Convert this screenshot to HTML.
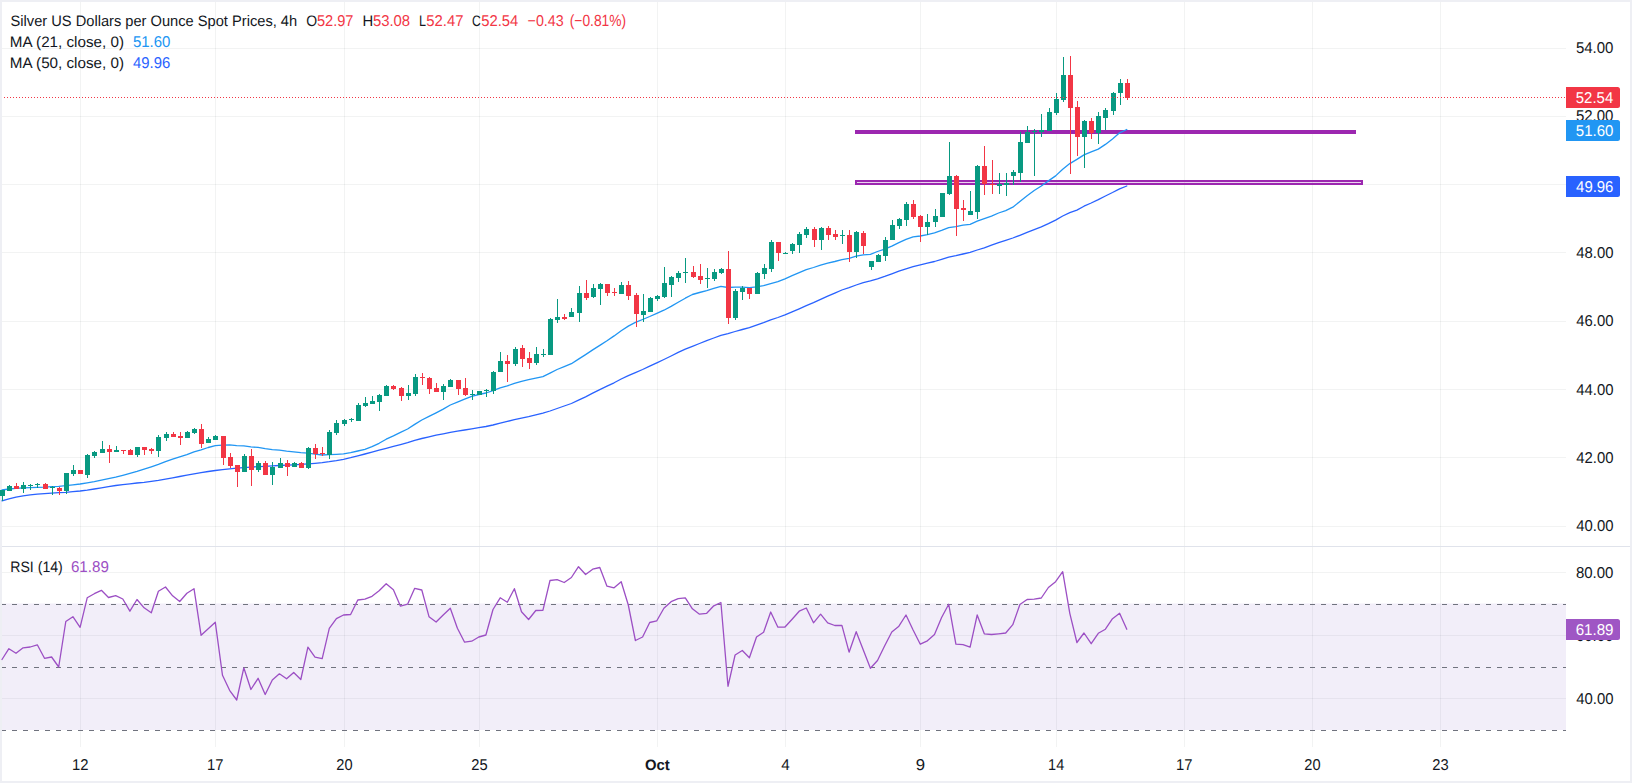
<!DOCTYPE html>
<html lang="en"><head><meta charset="utf-8"><title>Silver US Dollars per Ounce Spot Prices, 4h</title>
<style>html,body{margin:0;padding:0;background:#fff;overflow:hidden}svg{display:block}text{font-family:"Liberation Sans", sans-serif;font-size:15.1px;text-rendering:geometricPrecision}</style></head><body>
<svg width="1632" height="783" viewBox="0 0 1632 783">
<rect x="0" y="0" width="1632" height="783" fill="#eeeff4"/>
<rect x="2" y="2" width="1628" height="779" fill="#ffffff"/>
<g shape-rendering="crispEdges" stroke="#2a2e39" stroke-opacity="0.06" stroke-width="1">
<line x1="80.5" y1="2" x2="80.5" y2="546"/>
<line x1="80.5" y1="547" x2="80.5" y2="747"/>
<line x1="215.5" y1="2" x2="215.5" y2="546"/>
<line x1="215.5" y1="547" x2="215.5" y2="747"/>
<line x1="344.5" y1="2" x2="344.5" y2="546"/>
<line x1="344.5" y1="547" x2="344.5" y2="747"/>
<line x1="479.5" y1="2" x2="479.5" y2="546"/>
<line x1="479.5" y1="547" x2="479.5" y2="747"/>
<line x1="657.5" y1="2" x2="657.5" y2="546"/>
<line x1="657.5" y1="547" x2="657.5" y2="747"/>
<line x1="785.5" y1="2" x2="785.5" y2="546"/>
<line x1="785.5" y1="547" x2="785.5" y2="747"/>
<line x1="920.5" y1="2" x2="920.5" y2="546"/>
<line x1="920.5" y1="547" x2="920.5" y2="747"/>
<line x1="1056.5" y1="2" x2="1056.5" y2="546"/>
<line x1="1056.5" y1="547" x2="1056.5" y2="747"/>
<line x1="1184.5" y1="2" x2="1184.5" y2="546"/>
<line x1="1184.5" y1="547" x2="1184.5" y2="747"/>
<line x1="1312.5" y1="2" x2="1312.5" y2="546"/>
<line x1="1312.5" y1="547" x2="1312.5" y2="747"/>
<line x1="1440.5" y1="2" x2="1440.5" y2="546"/>
<line x1="1440.5" y1="547" x2="1440.5" y2="747"/>
<line x1="2" y1="526.5" x2="1566" y2="526.5"/>
<line x1="2" y1="457.5" x2="1566" y2="457.5"/>
<line x1="2" y1="389.5" x2="1566" y2="389.5"/>
<line x1="2" y1="321.5" x2="1566" y2="321.5"/>
<line x1="2" y1="252.5" x2="1566" y2="252.5"/>
<line x1="2" y1="184.5" x2="1566" y2="184.5"/>
<line x1="2" y1="116.5" x2="1566" y2="116.5"/>
<line x1="2" y1="48.5" x2="1566" y2="48.5"/>
<line x1="2" y1="572.5" x2="1566" y2="572.5"/>
<line x1="2" y1="635.5" x2="1566" y2="635.5"/>
<line x1="2" y1="698.5" x2="1566" y2="698.5"/>
</g>
<rect x="2" y="603.5" width="1564" height="126.5" fill="#7e57c2" fill-opacity="0.1"/>
<g shape-rendering="crispEdges" stroke="#70737e" stroke-width="1" stroke-dasharray="5 6" stroke-dashoffset="1">
<line x1="2" y1="604.5" x2="1566" y2="604.5"/>
<line x1="2" y1="667.5" x2="1566" y2="667.5"/>
<line x1="2" y1="730.5" x2="1566" y2="730.5"/>
</g>
<rect x="2" y="546" width="1628" height="1" fill="#e0e3eb"/>
<rect x="855" y="130" width="501" height="4" fill="#9c27b0"/>
<rect x="856" y="181" width="506" height="3" fill="#9c27b0" fill-opacity="0.2" stroke="#9c27b0" stroke-width="2"/>
<path d="M2.0 490.0 L8.9 489.0 L16.0 488.4 L23.1 487.9 L30.2 487.6 L37.3 487.3 L44.5 487.1 L51.6 486.7 L58.7 486.3 L65.8 485.7 L72.9 484.9 L80.1 484.0 L87.2 482.8 L94.3 481.6 L101.4 480.2 L108.5 478.7 L115.7 477.1 L122.8 475.3 L129.9 473.4 L137.0 471.4 L144.1 469.2 L151.3 466.8 L158.4 464.3 L165.5 461.6 L172.6 459.2 L179.7 456.9 L186.9 454.6 L194.0 451.9 L201.1 449.8 L208.2 447.5 L215.3 445.7 L222.5 445.1 L229.6 444.8 L236.7 445.6 L243.8 445.8 L250.9 446.8 L258.1 447.4 L265.2 448.7 L272.3 449.6 L279.4 450.1 L286.6 451.1 L293.7 451.8 L300.8 452.6 L307.9 453.1 L315.0 454.1 L322.2 455.0 L329.3 454.7 L336.4 454.3 L343.5 453.8 L350.6 452.6 L357.8 451.0 L364.9 449.4 L372.0 446.7 L379.1 443.3 L386.2 439.2 L393.4 435.9 L400.5 432.4 L407.6 429.0 L414.7 424.4 L421.8 420.0 L429.0 416.4 L436.1 412.8 L443.2 409.1 L450.3 405.0 L457.4 402.1 L464.6 399.2 L471.7 396.4 L478.8 394.5 L485.9 393.0 L493.0 390.7 L500.2 387.9 L507.3 385.9 L514.4 383.4 L521.5 381.3 L528.6 379.7 L535.8 378.2 L542.9 376.6 L550.0 373.1 L557.1 369.5 L564.2 366.7 L571.4 363.7 L578.5 359.1 L585.6 354.6 L592.7 349.9 L599.8 345.4 L607.0 340.8 L614.1 335.9 L621.2 330.7 L628.3 326.1 L635.4 322.4 L642.6 319.5 L649.7 316.5 L656.8 313.3 L663.9 310.2 L671.1 306.4 L678.2 302.2 L685.3 298.2 L692.4 294.5 L699.5 292.5 L706.7 290.6 L713.8 288.4 L720.9 286.3 L728.0 287.5 L735.1 287.2 L742.3 287.2 L749.4 287.6 L756.5 286.8 L763.6 285.7 L770.7 283.7 L777.9 281.7 L785.0 278.9 L792.1 275.7 L799.2 272.7 L806.3 269.6 L813.5 267.5 L820.6 265.1 L827.7 263.2 L834.8 261.5 L841.9 259.6 L849.1 258.3 L856.2 256.1 L863.3 254.8 L870.4 254.4 L877.5 251.5 L884.7 249.1 L891.8 246.2 L898.9 242.6 L906.0 239.3 L913.1 236.8 L920.3 236.0 L927.4 234.6 L934.5 232.8 L941.6 230.4 L948.7 227.6 L955.9 226.6 L963.0 225.1 L970.1 224.3 L977.2 221.2 L984.3 218.7 L991.5 216.2 L998.6 213.0 L1005.7 210.6 L1012.8 207.2 L1019.9 201.5 L1027.1 195.7 L1034.2 190.5 L1041.3 186.0 L1048.4 180.9 L1055.6 175.9 L1062.7 169.2 L1069.8 163.6 L1076.9 159.4 L1084.0 154.9 L1091.2 151.9 L1098.3 149.1 L1105.4 144.4 L1112.5 138.9 L1119.6 132.8 L1126.8 129.5" fill="none" stroke="#2196f3" stroke-width="1.3" stroke-linejoin="round" stroke-linecap="round"/>
<path d="M2.0 500.9 L8.9 498.8 L16.0 497.1 L23.1 495.8 L30.2 494.9 L37.3 494.1 L44.5 493.6 L51.6 493.1 L58.7 492.7 L65.8 492.3 L72.9 491.7 L80.1 491.0 L87.2 490.1 L94.3 489.0 L101.4 487.8 L108.5 486.6 L115.7 485.5 L122.8 484.6 L129.9 483.8 L137.0 483.0 L144.1 482.3 L151.3 481.3 L158.4 480.3 L165.5 479.1 L172.6 477.8 L179.7 476.5 L186.9 475.1 L194.0 473.8 L201.1 472.6 L208.2 471.5 L215.3 470.5 L222.5 469.6 L229.6 468.8 L236.7 468.2 L243.8 467.6 L250.9 467.1 L258.1 466.6 L265.2 466.3 L272.3 465.9 L279.4 465.5 L286.6 465.2 L293.7 464.8 L300.8 464.4 L307.9 463.9 L315.0 463.3 L322.2 462.6 L329.3 461.7 L336.4 460.6 L343.5 459.3 L350.6 457.7 L357.8 455.9 L364.9 454.0 L372.0 452.1 L379.1 450.2 L386.2 448.3 L393.4 446.4 L400.5 444.6 L407.6 442.7 L414.7 440.4 L421.8 438.5 L429.0 436.8 L436.1 435.2 L443.2 433.8 L450.3 432.3 L457.4 431.1 L464.6 430.0 L471.7 428.9 L478.8 427.7 L485.9 426.5 L493.0 425.0 L500.2 423.2 L507.3 421.4 L514.4 419.6 L521.5 418.1 L528.6 416.6 L535.8 414.9 L542.9 413.2 L550.0 411.0 L557.1 408.5 L564.2 406.0 L571.4 403.5 L578.5 400.2 L585.6 396.8 L592.7 393.2 L599.8 389.7 L607.0 386.2 L614.1 382.8 L621.2 379.0 L628.3 375.6 L635.4 372.6 L642.6 369.5 L649.7 366.2 L656.8 362.8 L663.9 359.5 L671.1 356.0 L678.2 352.4 L685.3 349.2 L692.4 346.3 L699.5 343.5 L706.7 340.6 L713.8 338.0 L720.9 335.3 L728.0 333.6 L735.1 331.5 L742.3 329.5 L749.4 327.6 L756.5 325.1 L763.6 322.6 L770.7 319.9 L777.9 317.5 L785.0 314.8 L792.1 311.8 L799.2 308.8 L806.3 305.7 L813.5 302.7 L820.6 299.4 L827.7 296.2 L834.8 293.1 L841.9 290.0 L849.1 287.6 L856.2 285.0 L863.3 282.6 L870.4 280.9 L877.5 278.8 L884.7 276.4 L891.8 273.8 L898.9 271.1 L906.0 268.8 L913.1 266.7 L920.3 264.9 L927.4 263.1 L934.5 261.5 L941.6 259.4 L948.7 257.2 L955.9 255.7 L963.0 254.0 L970.1 252.4 L977.2 250.0 L984.3 247.8 L991.5 245.2 L998.6 242.7 L1005.7 240.4 L1012.8 238.0 L1019.9 235.3 L1027.1 232.4 L1034.2 229.6 L1041.3 226.9 L1048.4 223.7 L1055.6 220.1 L1062.7 216.0 L1069.8 212.7 L1076.9 210.1 L1084.0 206.2 L1091.2 203.0 L1098.3 199.6 L1105.4 196.0 L1112.5 192.5 L1119.6 188.8 L1126.8 186.0" fill="none" stroke="#2962ff" stroke-width="1.3" stroke-linejoin="round" stroke-linecap="round"/>
<g shape-rendering="crispEdges">
<rect x="2" y="490" width="1" height="11" fill="#089981"/>
<rect x="0" y="490" width="5" height="6" fill="#089981"/>
<rect x="9" y="485" width="1" height="6" fill="#089981"/>
<rect x="7" y="486" width="5" height="5" fill="#089981"/>
<rect x="16" y="483" width="1" height="6" fill="#f23645"/>
<rect x="14" y="486" width="5" height="3" fill="#f23645"/>
<rect x="23" y="482" width="1" height="11" fill="#089981"/>
<rect x="21" y="485" width="5" height="4" fill="#089981"/>
<rect x="30" y="484" width="1" height="6" fill="#089981"/>
<rect x="28" y="485" width="5" height="1" fill="#089981"/>
<rect x="37" y="483" width="1" height="5" fill="#089981"/>
<rect x="35" y="484" width="5" height="1" fill="#089981"/>
<rect x="45" y="483" width="1" height="6" fill="#f23645"/>
<rect x="43" y="484" width="5" height="5" fill="#f23645"/>
<rect x="52" y="486" width="1" height="9" fill="#089981"/>
<rect x="50" y="487" width="5" height="1" fill="#089981"/>
<rect x="59" y="487" width="1" height="8" fill="#f23645"/>
<rect x="57" y="488" width="5" height="3" fill="#f23645"/>
<rect x="66" y="473" width="1" height="21" fill="#089981"/>
<rect x="64" y="473" width="5" height="18" fill="#089981"/>
<rect x="73" y="465" width="1" height="11" fill="#089981"/>
<rect x="71" y="470" width="5" height="4" fill="#089981"/>
<rect x="80" y="470" width="1" height="4" fill="#f23645"/>
<rect x="78" y="470" width="5" height="4" fill="#f23645"/>
<rect x="87" y="454" width="1" height="24" fill="#089981"/>
<rect x="85" y="455" width="5" height="20" fill="#089981"/>
<rect x="94" y="451" width="1" height="7" fill="#089981"/>
<rect x="92" y="452" width="5" height="4" fill="#089981"/>
<rect x="102" y="441" width="1" height="12" fill="#089981"/>
<rect x="100" y="449" width="5" height="4" fill="#089981"/>
<rect x="109" y="445" width="1" height="18" fill="#f23645"/>
<rect x="107" y="449" width="5" height="3" fill="#f23645"/>
<rect x="116" y="446" width="1" height="6" fill="#089981"/>
<rect x="114" y="450" width="5" height="2" fill="#089981"/>
<rect x="123" y="450" width="1" height="4" fill="#f23645"/>
<rect x="121" y="450" width="5" height="1" fill="#f23645"/>
<rect x="130" y="449" width="1" height="6" fill="#f23645"/>
<rect x="128" y="450" width="5" height="5" fill="#f23645"/>
<rect x="137" y="447" width="1" height="10" fill="#089981"/>
<rect x="135" y="447" width="5" height="8" fill="#089981"/>
<rect x="144" y="447" width="1" height="8" fill="#f23645"/>
<rect x="142" y="447" width="5" height="3" fill="#f23645"/>
<rect x="151" y="448" width="1" height="6" fill="#f23645"/>
<rect x="149" y="449" width="5" height="2" fill="#f23645"/>
<rect x="158" y="435" width="1" height="22" fill="#089981"/>
<rect x="156" y="437" width="5" height="14" fill="#089981"/>
<rect x="166" y="432" width="1" height="9" fill="#089981"/>
<rect x="164" y="434" width="5" height="4" fill="#089981"/>
<rect x="173" y="432" width="1" height="5" fill="#f23645"/>
<rect x="171" y="434" width="5" height="3" fill="#f23645"/>
<rect x="180" y="432" width="1" height="13" fill="#f23645"/>
<rect x="178" y="436" width="5" height="2" fill="#f23645"/>
<rect x="187" y="431" width="1" height="7" fill="#089981"/>
<rect x="185" y="432" width="5" height="6" fill="#089981"/>
<rect x="194" y="428" width="1" height="6" fill="#089981"/>
<rect x="192" y="429" width="5" height="4" fill="#089981"/>
<rect x="201" y="424" width="1" height="24" fill="#f23645"/>
<rect x="199" y="429" width="5" height="15" fill="#f23645"/>
<rect x="208" y="437" width="1" height="6" fill="#089981"/>
<rect x="206" y="439" width="5" height="4" fill="#089981"/>
<rect x="215" y="435" width="1" height="5" fill="#089981"/>
<rect x="213" y="436" width="5" height="4" fill="#089981"/>
<rect x="223" y="436" width="1" height="29" fill="#f23645"/>
<rect x="221" y="436" width="5" height="22" fill="#f23645"/>
<rect x="230" y="453" width="1" height="15" fill="#f23645"/>
<rect x="228" y="457" width="5" height="9" fill="#f23645"/>
<rect x="237" y="465" width="1" height="22" fill="#f23645"/>
<rect x="235" y="465" width="5" height="7" fill="#f23645"/>
<rect x="244" y="454" width="1" height="18" fill="#089981"/>
<rect x="242" y="456" width="5" height="16" fill="#089981"/>
<rect x="251" y="449" width="1" height="37" fill="#f23645"/>
<rect x="249" y="456" width="5" height="14" fill="#f23645"/>
<rect x="258" y="461" width="1" height="11" fill="#089981"/>
<rect x="256" y="463" width="5" height="7" fill="#089981"/>
<rect x="265" y="461" width="1" height="14" fill="#f23645"/>
<rect x="263" y="463" width="5" height="12" fill="#f23645"/>
<rect x="272" y="462" width="1" height="23" fill="#089981"/>
<rect x="270" y="467" width="5" height="8" fill="#089981"/>
<rect x="280" y="458" width="1" height="10" fill="#089981"/>
<rect x="278" y="463" width="5" height="5" fill="#089981"/>
<rect x="287" y="460" width="1" height="16" fill="#f23645"/>
<rect x="285" y="463" width="5" height="4" fill="#f23645"/>
<rect x="294" y="462" width="1" height="5" fill="#089981"/>
<rect x="292" y="463" width="5" height="4" fill="#089981"/>
<rect x="301" y="462" width="1" height="6" fill="#f23645"/>
<rect x="299" y="463" width="5" height="5" fill="#f23645"/>
<rect x="308" y="447" width="1" height="22" fill="#089981"/>
<rect x="306" y="448" width="5" height="20" fill="#089981"/>
<rect x="315" y="444" width="1" height="15" fill="#f23645"/>
<rect x="313" y="448" width="5" height="6" fill="#f23645"/>
<rect x="322" y="447" width="1" height="9" fill="#f23645"/>
<rect x="320" y="453" width="5" height="1" fill="#f23645"/>
<rect x="329" y="430" width="1" height="29" fill="#089981"/>
<rect x="327" y="432" width="5" height="23" fill="#089981"/>
<rect x="336" y="420" width="1" height="15" fill="#089981"/>
<rect x="334" y="423" width="5" height="10" fill="#089981"/>
<rect x="344" y="419" width="1" height="7" fill="#089981"/>
<rect x="342" y="420" width="5" height="4" fill="#089981"/>
<rect x="351" y="418" width="1" height="4" fill="#089981"/>
<rect x="349" y="419" width="5" height="1" fill="#089981"/>
<rect x="358" y="403" width="1" height="18" fill="#089981"/>
<rect x="356" y="405" width="5" height="16" fill="#089981"/>
<rect x="365" y="397" width="1" height="10" fill="#089981"/>
<rect x="363" y="403" width="5" height="3" fill="#089981"/>
<rect x="372" y="396" width="1" height="8" fill="#089981"/>
<rect x="370" y="401" width="5" height="3" fill="#089981"/>
<rect x="379" y="394" width="1" height="17" fill="#089981"/>
<rect x="377" y="395" width="5" height="7" fill="#089981"/>
<rect x="386" y="385" width="1" height="11" fill="#089981"/>
<rect x="384" y="386" width="5" height="10" fill="#089981"/>
<rect x="393" y="385" width="1" height="5" fill="#f23645"/>
<rect x="391" y="386" width="5" height="3" fill="#f23645"/>
<rect x="401" y="387" width="1" height="14" fill="#f23645"/>
<rect x="399" y="388" width="5" height="8" fill="#f23645"/>
<rect x="408" y="385" width="1" height="15" fill="#089981"/>
<rect x="406" y="393" width="5" height="3" fill="#089981"/>
<rect x="415" y="374" width="1" height="22" fill="#089981"/>
<rect x="413" y="377" width="5" height="17" fill="#089981"/>
<rect x="422" y="373" width="1" height="12" fill="#f23645"/>
<rect x="420" y="377" width="5" height="1" fill="#f23645"/>
<rect x="429" y="377" width="1" height="17" fill="#f23645"/>
<rect x="427" y="378" width="5" height="11" fill="#f23645"/>
<rect x="436" y="383" width="1" height="9" fill="#f23645"/>
<rect x="434" y="388" width="5" height="4" fill="#f23645"/>
<rect x="443" y="384" width="1" height="16" fill="#089981"/>
<rect x="441" y="386" width="5" height="6" fill="#089981"/>
<rect x="450" y="379" width="1" height="8" fill="#089981"/>
<rect x="448" y="380" width="5" height="7" fill="#089981"/>
<rect x="458" y="380" width="1" height="15" fill="#f23645"/>
<rect x="456" y="380" width="5" height="9" fill="#f23645"/>
<rect x="465" y="378" width="1" height="18" fill="#f23645"/>
<rect x="463" y="388" width="5" height="7" fill="#f23645"/>
<rect x="472" y="390" width="1" height="10" fill="#089981"/>
<rect x="470" y="394" width="5" height="1" fill="#089981"/>
<rect x="479" y="391" width="1" height="4" fill="#089981"/>
<rect x="477" y="391" width="5" height="4" fill="#089981"/>
<rect x="486" y="389" width="1" height="8" fill="#089981"/>
<rect x="484" y="390" width="5" height="1" fill="#089981"/>
<rect x="493" y="371" width="1" height="23" fill="#089981"/>
<rect x="491" y="372" width="5" height="19" fill="#089981"/>
<rect x="500" y="352" width="1" height="20" fill="#089981"/>
<rect x="498" y="361" width="5" height="11" fill="#089981"/>
<rect x="507" y="355" width="1" height="27" fill="#f23645"/>
<rect x="505" y="361" width="5" height="3" fill="#f23645"/>
<rect x="515" y="347" width="1" height="19" fill="#089981"/>
<rect x="513" y="349" width="5" height="15" fill="#089981"/>
<rect x="522" y="345" width="1" height="22" fill="#f23645"/>
<rect x="520" y="348" width="5" height="11" fill="#f23645"/>
<rect x="529" y="352" width="1" height="17" fill="#f23645"/>
<rect x="527" y="358" width="5" height="5" fill="#f23645"/>
<rect x="536" y="347" width="1" height="18" fill="#089981"/>
<rect x="534" y="354" width="5" height="9" fill="#089981"/>
<rect x="543" y="349" width="1" height="8" fill="#089981"/>
<rect x="541" y="354" width="5" height="1" fill="#089981"/>
<rect x="550" y="318" width="1" height="37" fill="#089981"/>
<rect x="548" y="319" width="5" height="36" fill="#089981"/>
<rect x="557" y="299" width="1" height="24" fill="#089981"/>
<rect x="555" y="317" width="5" height="3" fill="#089981"/>
<rect x="564" y="314" width="1" height="6" fill="#f23645"/>
<rect x="562" y="317" width="5" height="2" fill="#f23645"/>
<rect x="571" y="308" width="1" height="9" fill="#089981"/>
<rect x="569" y="312" width="5" height="5" fill="#089981"/>
<rect x="579" y="286" width="1" height="36" fill="#089981"/>
<rect x="577" y="293" width="5" height="20" fill="#089981"/>
<rect x="586" y="280" width="1" height="20" fill="#f23645"/>
<rect x="584" y="293" width="5" height="5" fill="#f23645"/>
<rect x="593" y="284" width="1" height="14" fill="#089981"/>
<rect x="591" y="288" width="5" height="9" fill="#089981"/>
<rect x="600" y="283" width="1" height="22" fill="#089981"/>
<rect x="598" y="284" width="5" height="5" fill="#089981"/>
<rect x="607" y="284" width="1" height="12" fill="#f23645"/>
<rect x="605" y="284" width="5" height="9" fill="#f23645"/>
<rect x="614" y="288" width="1" height="8" fill="#f23645"/>
<rect x="612" y="292" width="5" height="1" fill="#f23645"/>
<rect x="621" y="282" width="1" height="12" fill="#089981"/>
<rect x="619" y="285" width="5" height="9" fill="#089981"/>
<rect x="628" y="281" width="1" height="19" fill="#f23645"/>
<rect x="626" y="285" width="5" height="11" fill="#f23645"/>
<rect x="636" y="293" width="1" height="34" fill="#f23645"/>
<rect x="634" y="295" width="5" height="19" fill="#f23645"/>
<rect x="643" y="294" width="1" height="28" fill="#089981"/>
<rect x="641" y="311" width="5" height="4" fill="#089981"/>
<rect x="650" y="297" width="1" height="15" fill="#089981"/>
<rect x="648" y="298" width="5" height="14" fill="#089981"/>
<rect x="657" y="295" width="1" height="6" fill="#089981"/>
<rect x="655" y="296" width="5" height="3" fill="#089981"/>
<rect x="664" y="267" width="1" height="31" fill="#089981"/>
<rect x="662" y="283" width="5" height="14" fill="#089981"/>
<rect x="671" y="276" width="1" height="21" fill="#089981"/>
<rect x="669" y="277" width="5" height="8" fill="#089981"/>
<rect x="678" y="271" width="1" height="11" fill="#089981"/>
<rect x="676" y="273" width="5" height="5" fill="#089981"/>
<rect x="685" y="258" width="1" height="25" fill="#089981"/>
<rect x="683" y="272" width="5" height="1" fill="#089981"/>
<rect x="693" y="266" width="1" height="12" fill="#f23645"/>
<rect x="691" y="272" width="5" height="5" fill="#f23645"/>
<rect x="700" y="264" width="1" height="20" fill="#f23645"/>
<rect x="698" y="276" width="5" height="4" fill="#f23645"/>
<rect x="707" y="268" width="1" height="20" fill="#089981"/>
<rect x="705" y="278" width="5" height="1" fill="#089981"/>
<rect x="714" y="269" width="1" height="12" fill="#089981"/>
<rect x="712" y="272" width="5" height="7" fill="#089981"/>
<rect x="721" y="268" width="1" height="6" fill="#089981"/>
<rect x="719" y="269" width="5" height="4" fill="#089981"/>
<rect x="728" y="251" width="1" height="73" fill="#f23645"/>
<rect x="726" y="269" width="5" height="49" fill="#f23645"/>
<rect x="735" y="289" width="1" height="31" fill="#089981"/>
<rect x="733" y="291" width="5" height="27" fill="#089981"/>
<rect x="742" y="286" width="1" height="14" fill="#089981"/>
<rect x="740" y="288" width="5" height="4" fill="#089981"/>
<rect x="749" y="288" width="1" height="11" fill="#f23645"/>
<rect x="747" y="288" width="5" height="6" fill="#f23645"/>
<rect x="757" y="272" width="1" height="22" fill="#089981"/>
<rect x="755" y="273" width="5" height="21" fill="#089981"/>
<rect x="764" y="264" width="1" height="15" fill="#089981"/>
<rect x="762" y="268" width="5" height="6" fill="#089981"/>
<rect x="771" y="240" width="1" height="32" fill="#089981"/>
<rect x="769" y="242" width="5" height="27" fill="#089981"/>
<rect x="778" y="242" width="1" height="19" fill="#f23645"/>
<rect x="776" y="242" width="5" height="11" fill="#f23645"/>
<rect x="785" y="252" width="1" height="2" fill="#089981"/>
<rect x="783" y="253" width="5" height="1" fill="#089981"/>
<rect x="792" y="243" width="1" height="11" fill="#089981"/>
<rect x="790" y="244" width="5" height="7" fill="#089981"/>
<rect x="799" y="232" width="1" height="21" fill="#089981"/>
<rect x="797" y="234" width="5" height="11" fill="#089981"/>
<rect x="806" y="227" width="1" height="11" fill="#089981"/>
<rect x="804" y="229" width="5" height="6" fill="#089981"/>
<rect x="814" y="227" width="1" height="20" fill="#f23645"/>
<rect x="812" y="229" width="5" height="11" fill="#f23645"/>
<rect x="821" y="227" width="1" height="23" fill="#089981"/>
<rect x="819" y="228" width="5" height="12" fill="#089981"/>
<rect x="828" y="226" width="1" height="14" fill="#f23645"/>
<rect x="826" y="228" width="5" height="7" fill="#f23645"/>
<rect x="835" y="230" width="1" height="10" fill="#f23645"/>
<rect x="833" y="234" width="5" height="3" fill="#f23645"/>
<rect x="842" y="230" width="1" height="14" fill="#089981"/>
<rect x="840" y="235" width="5" height="1" fill="#089981"/>
<rect x="849" y="230" width="1" height="32" fill="#f23645"/>
<rect x="847" y="235" width="5" height="17" fill="#f23645"/>
<rect x="856" y="231" width="1" height="27" fill="#089981"/>
<rect x="854" y="232" width="5" height="20" fill="#089981"/>
<rect x="863" y="231" width="1" height="23" fill="#f23645"/>
<rect x="861" y="233" width="5" height="13" fill="#f23645"/>
<rect x="871" y="261" width="1" height="9" fill="#089981"/>
<rect x="869" y="261" width="5" height="6" fill="#089981"/>
<rect x="878" y="254" width="1" height="8" fill="#089981"/>
<rect x="876" y="255" width="5" height="7" fill="#089981"/>
<rect x="885" y="237" width="1" height="24" fill="#089981"/>
<rect x="883" y="240" width="5" height="16" fill="#089981"/>
<rect x="892" y="220" width="1" height="20" fill="#089981"/>
<rect x="890" y="225" width="5" height="15" fill="#089981"/>
<rect x="899" y="218" width="1" height="11" fill="#089981"/>
<rect x="897" y="219" width="5" height="7" fill="#089981"/>
<rect x="906" y="202" width="1" height="24" fill="#089981"/>
<rect x="904" y="204" width="5" height="16" fill="#089981"/>
<rect x="913" y="200" width="1" height="19" fill="#f23645"/>
<rect x="911" y="204" width="5" height="13" fill="#f23645"/>
<rect x="920" y="215" width="1" height="27" fill="#f23645"/>
<rect x="918" y="216" width="5" height="11" fill="#f23645"/>
<rect x="927" y="214" width="1" height="21" fill="#089981"/>
<rect x="925" y="222" width="5" height="5" fill="#089981"/>
<rect x="935" y="209" width="1" height="18" fill="#089981"/>
<rect x="933" y="216" width="5" height="6" fill="#089981"/>
<rect x="942" y="193" width="1" height="24" fill="#089981"/>
<rect x="940" y="193" width="5" height="24" fill="#089981"/>
<rect x="949" y="142" width="1" height="53" fill="#089981"/>
<rect x="947" y="176" width="5" height="18" fill="#089981"/>
<rect x="956" y="175" width="1" height="61" fill="#f23645"/>
<rect x="954" y="176" width="5" height="33" fill="#f23645"/>
<rect x="963" y="200" width="1" height="21" fill="#f23645"/>
<rect x="961" y="208" width="5" height="2" fill="#f23645"/>
<rect x="970" y="191" width="1" height="24" fill="#089981"/>
<rect x="968" y="211" width="5" height="4" fill="#089981"/>
<rect x="977" y="165" width="1" height="54" fill="#089981"/>
<rect x="975" y="166" width="5" height="46" fill="#089981"/>
<rect x="984" y="146" width="1" height="49" fill="#f23645"/>
<rect x="982" y="166" width="5" height="18" fill="#f23645"/>
<rect x="992" y="160" width="1" height="34" fill="#f23645"/>
<rect x="990" y="184" width="5" height="1" fill="#f23645"/>
<rect x="999" y="173" width="1" height="21" fill="#089981"/>
<rect x="997" y="184" width="5" height="2" fill="#089981"/>
<rect x="1006" y="173" width="1" height="23" fill="#089981"/>
<rect x="1004" y="183" width="5" height="2" fill="#089981"/>
<rect x="1013" y="170" width="1" height="15" fill="#089981"/>
<rect x="1011" y="172" width="5" height="4" fill="#089981"/>
<rect x="1020" y="132" width="1" height="50" fill="#089981"/>
<rect x="1018" y="142" width="5" height="31" fill="#089981"/>
<rect x="1027" y="126" width="1" height="17" fill="#089981"/>
<rect x="1025" y="132" width="5" height="11" fill="#089981"/>
<rect x="1034" y="129" width="1" height="47" fill="#089981"/>
<rect x="1032" y="131" width="5" height="1" fill="#089981"/>
<rect x="1041" y="114" width="1" height="23" fill="#089981"/>
<rect x="1039" y="130" width="5" height="2" fill="#089981"/>
<rect x="1049" y="108" width="1" height="23" fill="#089981"/>
<rect x="1047" y="112" width="5" height="19" fill="#089981"/>
<rect x="1056" y="93" width="1" height="22" fill="#089981"/>
<rect x="1054" y="99" width="5" height="14" fill="#089981"/>
<rect x="1063" y="57" width="1" height="45" fill="#089981"/>
<rect x="1061" y="75" width="5" height="25" fill="#089981"/>
<rect x="1070" y="56" width="1" height="118" fill="#f23645"/>
<rect x="1068" y="75" width="5" height="33" fill="#f23645"/>
<rect x="1077" y="101" width="1" height="55" fill="#f23645"/>
<rect x="1075" y="107" width="5" height="30" fill="#f23645"/>
<rect x="1084" y="120" width="1" height="48" fill="#089981"/>
<rect x="1082" y="121" width="5" height="16" fill="#089981"/>
<rect x="1091" y="118" width="1" height="21" fill="#f23645"/>
<rect x="1089" y="121" width="5" height="12" fill="#f23645"/>
<rect x="1098" y="112" width="1" height="32" fill="#089981"/>
<rect x="1096" y="116" width="5" height="17" fill="#089981"/>
<rect x="1105" y="108" width="1" height="22" fill="#089981"/>
<rect x="1103" y="110" width="5" height="8" fill="#089981"/>
<rect x="1113" y="92" width="1" height="23" fill="#089981"/>
<rect x="1111" y="93" width="5" height="18" fill="#089981"/>
<rect x="1120" y="79" width="1" height="26" fill="#089981"/>
<rect x="1118" y="83" width="5" height="10" fill="#089981"/>
<rect x="1127" y="79" width="1" height="21" fill="#f23645"/>
<rect x="1125" y="83" width="5" height="15" fill="#f23645"/>
</g>
<line x1="2" y1="97.5" x2="1566" y2="97.5" stroke="#f23645" stroke-width="1" stroke-dasharray="1 2" stroke-dashoffset="1" shape-rendering="crispEdges"/>
<path d="M2.0 659.5 L8.9 648.7 L16.0 653.3 L23.1 647.8 L30.2 647.0 L37.3 644.8 L44.5 658.3 L51.6 657.0 L58.7 667.0 L65.8 621.5 L72.9 616.7 L80.1 627.3 L87.2 597.8 L94.3 593.7 L101.4 590.3 L108.5 597.5 L115.7 595.7 L122.8 599.0 L129.9 611.2 L137.0 599.5 L144.1 607.8 L151.3 612.8 L158.4 591.2 L165.5 587.0 L172.6 595.8 L179.7 601.5 L186.9 593.3 L194.0 588.7 L201.1 635.3 L208.2 628.7 L215.3 622.3 L222.5 675.3 L229.6 690.3 L236.7 700.0 L243.8 667.8 L250.9 689.5 L258.1 678.3 L265.2 694.5 L272.3 680.0 L279.4 673.8 L286.6 678.8 L293.7 672.5 L300.8 679.5 L307.9 647.2 L315.0 657.2 L322.2 658.7 L329.3 628.3 L336.4 618.7 L343.5 615.0 L350.6 614.5 L357.8 600.0 L364.9 599.2 L372.0 596.3 L379.1 590.8 L386.2 583.7 L393.4 589.7 L400.5 606.2 L407.6 604.2 L414.7 588.3 L421.8 590.0 L429.0 616.7 L436.1 622.0 L443.2 615.0 L450.3 608.3 L457.4 628.3 L464.6 642.2 L471.7 641.2 L478.8 637.0 L485.9 635.0 L493.0 609.5 L500.2 597.8 L507.3 602.2 L514.4 588.7 L521.5 611.7 L528.6 619.5 L535.8 610.5 L542.9 610.3 L550.0 580.5 L557.1 579.7 L564.2 582.5 L571.4 577.5 L578.5 566.7 L585.6 574.5 L592.7 569.2 L599.8 567.5 L607.0 586.2 L614.1 587.8 L621.2 581.7 L628.3 605.0 L635.4 640.5 L642.6 637.0 L649.7 622.5 L656.8 620.8 L663.9 608.3 L671.1 601.7 L678.2 598.7 L685.3 597.8 L692.4 608.8 L699.5 614.2 L706.7 613.3 L713.8 605.8 L720.9 602.5 L728.0 686.3 L735.1 655.0 L742.3 650.5 L749.4 657.8 L756.5 637.0 L763.6 632.2 L770.7 612.0 L777.9 627.2 L785.0 627.0 L792.1 619.2 L799.2 611.2 L806.3 608.0 L813.5 622.8 L820.6 614.2 L827.7 622.8 L834.8 625.5 L841.9 625.3 L849.1 652.2 L856.2 631.7 L863.3 650.0 L870.4 668.3 L877.5 660.5 L884.7 645.8 L891.8 632.0 L898.9 626.2 L906.0 615.0 L913.1 630.0 L920.3 644.2 L927.4 640.8 L934.5 634.5 L941.6 617.5 L948.7 604.2 L955.9 644.2 L963.0 644.7 L970.1 647.2 L977.2 615.0 L984.3 633.8 L991.5 634.5 L998.6 633.8 L1005.7 633.0 L1012.8 624.7 L1019.9 604.5 L1027.1 599.5 L1034.2 599.2 L1041.3 598.0 L1048.4 587.5 L1055.6 581.7 L1062.7 571.7 L1069.8 613.3 L1076.9 642.5 L1084.0 633.0 L1091.2 643.7 L1098.3 633.3 L1105.4 629.2 L1112.5 618.7 L1119.6 613.3 L1126.8 629.2" fill="none" stroke="#9c4fc4" stroke-width="1.3" stroke-linejoin="round" stroke-linecap="round"/>
<text x="1576.20" y="531.10" fill="#131722" textLength="37.26" lengthAdjust="spacingAndGlyphs" style="font-size:15.7px">40.00</text>
<text x="1576.20" y="462.80" fill="#131722" textLength="37.26" lengthAdjust="spacingAndGlyphs" style="font-size:15.7px">42.00</text>
<text x="1576.20" y="394.50" fill="#131722" textLength="37.26" lengthAdjust="spacingAndGlyphs" style="font-size:15.7px">44.00</text>
<text x="1576.20" y="326.20" fill="#131722" textLength="37.26" lengthAdjust="spacingAndGlyphs" style="font-size:15.7px">46.00</text>
<text x="1576.20" y="257.90" fill="#131722" textLength="37.26" lengthAdjust="spacingAndGlyphs" style="font-size:15.7px">48.00</text>
<text x="1575.90" y="189.60" fill="#131722" textLength="37.56" lengthAdjust="spacingAndGlyphs" style="font-size:15.7px">50.00</text>
<text x="1575.90" y="121.30" fill="#131722" textLength="37.56" lengthAdjust="spacingAndGlyphs" style="font-size:15.7px">52.00</text>
<text x="1575.90" y="53.00" fill="#131722" textLength="37.56" lengthAdjust="spacingAndGlyphs" style="font-size:15.7px">54.00</text>
<text x="1575.90" y="577.90" fill="#131722" textLength="37.56" lengthAdjust="spacingAndGlyphs" style="font-size:15.7px">80.00</text>
<text x="1575.75" y="641.10" fill="#131722" textLength="37.72" lengthAdjust="spacingAndGlyphs" style="font-size:15.7px">60.00</text>
<text x="1576.20" y="704.30" fill="#131722" textLength="37.26" lengthAdjust="spacingAndGlyphs" style="font-size:15.7px">40.00</text>
<path d="M1566 87 h51.5 a2.5 2.5 0 0 1 2.5 2.5 v16 a2.5 2.5 0 0 1 -2.5 2.5 h-51.5 z" fill="#f23645"/>
<text x="1575.80" y="103.00" fill="#ffffff" textLength="37.41" lengthAdjust="spacingAndGlyphs" style="font-size:15.7px">52.54</text>
<path d="M1566 120 h51.5 a2.5 2.5 0 0 1 2.5 2.5 v16 a2.5 2.5 0 0 1 -2.5 2.5 h-51.5 z" fill="#2196f3"/>
<text x="1575.80" y="136.00" fill="#ffffff" textLength="37.56" lengthAdjust="spacingAndGlyphs" style="font-size:15.7px">51.60</text>
<path d="M1566 176 h51.5 a2.5 2.5 0 0 1 2.5 2.5 v16 a2.5 2.5 0 0 1 -2.5 2.5 h-51.5 z" fill="#2962ff"/>
<text x="1576.10" y="192.00" fill="#ffffff" textLength="37.33" lengthAdjust="spacingAndGlyphs" style="font-size:15.7px">49.96</text>
<path d="M1566 619 h51.5 a2.5 2.5 0 0 1 2.5 2.5 v16 a2.5 2.5 0 0 1 -2.5 2.5 h-51.5 z" fill="#9f56c4"/>
<text x="1575.64" y="635.00" fill="#ffffff" textLength="37.88" lengthAdjust="spacingAndGlyphs" style="font-size:15.7px">61.89</text>
<text x="72.09" y="770.00" fill="#131722" textLength="16.49" lengthAdjust="spacingAndGlyphs" style="font-size:15.7px">12</text>
<text x="207.09" y="770.00" fill="#131722" textLength="16.49" lengthAdjust="spacingAndGlyphs" style="font-size:15.7px">17</text>
<text x="336.27" y="770.00" fill="#131722" textLength="16.28" lengthAdjust="spacingAndGlyphs" style="font-size:15.7px">20</text>
<text x="471.26" y="770.00" fill="#131722" textLength="16.36" lengthAdjust="spacingAndGlyphs" style="font-size:15.7px">25</text>
<text x="644.91" y="770.00" fill="#131722" textLength="24.77" lengthAdjust="spacingAndGlyphs" font-weight="bold">Oct</text>
<text x="781.29" y="770.00" fill="#131722" textLength="8.51" lengthAdjust="spacingAndGlyphs" style="font-size:15.7px">4</text>
<text x="915.85" y="770.00" fill="#131722" textLength="9.33" lengthAdjust="spacingAndGlyphs" style="font-size:15.7px">9</text>
<text x="1048.12" y="770.00" fill="#131722" textLength="16.08" lengthAdjust="spacingAndGlyphs" style="font-size:15.7px">14</text>
<text x="1176.09" y="770.00" fill="#131722" textLength="16.49" lengthAdjust="spacingAndGlyphs" style="font-size:15.7px">17</text>
<text x="1304.27" y="770.00" fill="#131722" textLength="16.28" lengthAdjust="spacingAndGlyphs" style="font-size:15.7px">20</text>
<text x="1432.26" y="770.00" fill="#131722" textLength="16.36" lengthAdjust="spacingAndGlyphs" style="font-size:15.7px">23</text>
<text x="10.54" y="26.10" fill="#131722" textLength="286.62" lengthAdjust="spacingAndGlyphs">Silver US Dollars per Ounce Spot Prices, 4h</text>
<text x="306.17" y="26.10" fill="#131722" textLength="10.90" lengthAdjust="spacingAndGlyphs">O</text>
<text x="316.92" y="26.10" fill="#f23645" textLength="36.55" lengthAdjust="spacingAndGlyphs" style="font-size:15.7px">52.97</text>
<text x="362.51" y="26.10" fill="#131722" textLength="10.70" lengthAdjust="spacingAndGlyphs">H</text>
<text x="372.90" y="26.10" fill="#f23645" textLength="37.23" lengthAdjust="spacingAndGlyphs" style="font-size:15.7px">53.08</text>
<text x="418.99" y="26.10" fill="#131722" textLength="7.00" lengthAdjust="spacingAndGlyphs">L</text>
<text x="426.20" y="26.10" fill="#f23645" textLength="37.28" lengthAdjust="spacingAndGlyphs" style="font-size:15.7px">52.47</text>
<text x="472.09" y="26.10" fill="#131722" textLength="8.76" lengthAdjust="spacingAndGlyphs">C</text>
<text x="481.21" y="26.10" fill="#f23645" textLength="37.10" lengthAdjust="spacingAndGlyphs" style="font-size:15.7px">52.54</text>
<text x="527.59" y="26.10" fill="#f23645" textLength="36.09" lengthAdjust="spacingAndGlyphs" style="font-size:15.7px">−0.43</text>
<text x="569.77" y="26.10" fill="#f23645" textLength="56.26" lengthAdjust="spacingAndGlyphs" style="font-size:16.2px">(−0.81%)</text>
<text x="9.88" y="46.90" fill="#131722" textLength="114.08" lengthAdjust="spacingAndGlyphs">MA (21, close, 0)</text>
<text x="132.90" y="46.90" fill="#2196f3" textLength="37.56" lengthAdjust="spacingAndGlyphs" style="font-size:15.7px">51.60</text>
<text x="9.88" y="67.90" fill="#131722" textLength="114.08" lengthAdjust="spacingAndGlyphs">MA (50, close, 0)</text>
<text x="133.00" y="67.90" fill="#2962ff" textLength="37.23" lengthAdjust="spacingAndGlyphs" style="font-size:15.7px">49.96</text>
<text x="10.27" y="571.60" fill="#131722" textLength="52.52" lengthAdjust="spacingAndGlyphs">RSI (14)</text>
<text x="70.94" y="571.60" fill="#9c4fc4" textLength="37.88" lengthAdjust="spacingAndGlyphs" style="font-size:15.7px">61.89</text>
</svg></body></html>
